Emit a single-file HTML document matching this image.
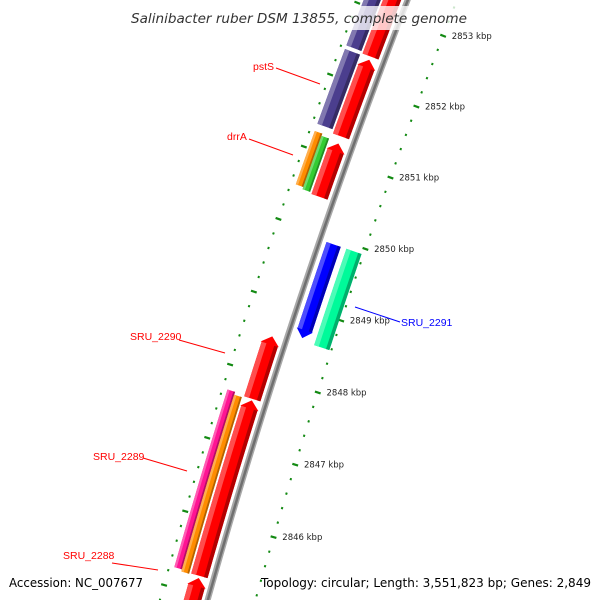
<!DOCTYPE html>
<html><head><meta charset="utf-8"><style>
html,body{margin:0;padding:0;background:#fff;width:600px;height:600px;overflow:hidden;}
svg{display:block;overflow:hidden;}
</style></head><body>
<svg id="map" width="600" height="600" viewBox="0 0 600 600" xmlns="http://www.w3.org/2000/svg">
<rect x="0" y="0" width="600" height="600" fill="#fff"/>
<g id="ticks"></g>
<g id="backbone"></g>
<g id="genes"></g>
<g id="labels">
 <line x1="276" y1="68" x2="320" y2="84" stroke="#f00" stroke-width="1"/>
 <text x="253" y="70" font-family="Liberation Sans, sans-serif" font-size="10.5" fill="#f00">pstS</text>
 <line x1="249" y1="139" x2="293" y2="155" stroke="#f00" stroke-width="1"/>
 <text x="227" y="140" font-family="Liberation Sans, sans-serif" font-size="10.5" fill="#f00">drrA</text>
 <line x1="179" y1="340" x2="225" y2="353" stroke="#f00" stroke-width="1"/>
 <text x="130" y="340" font-family="Liberation Sans, sans-serif" font-size="10.5" fill="#f00">SRU_2290</text>
 <line x1="143" y1="458" x2="187" y2="471" stroke="#f00" stroke-width="1"/>
 <text x="93" y="460" font-family="Liberation Sans, sans-serif" font-size="10.5" fill="#f00">SRU_2289</text>
 <line x1="112" y1="563" x2="158" y2="570" stroke="#f00" stroke-width="1"/>
 <text x="63" y="559" font-family="Liberation Sans, sans-serif" font-size="10.5" fill="#f00">SRU_2288</text>
 <line x1="355" y1="307" x2="400" y2="322" stroke="#00f" stroke-width="1"/>
 <text x="401" y="326" font-family="Liberation Sans, sans-serif" font-size="10.5" fill="#00f">SRU_2291</text>
</g>
<rect x="124" y="6" width="352" height="24" fill="#fff" fill-opacity="0.78"/>
<text x="299" y="23" text-anchor="middle" font-family="DejaVu Sans, sans-serif" font-style="italic" font-size="13" textLength="336" lengthAdjust="spacingAndGlyphs" fill="#333">Salinibacter ruber DSM 13855, complete genome</text>
<text x="9" y="587" font-family="DejaVu Sans, sans-serif" font-size="12" textLength="134" lengthAdjust="spacingAndGlyphs" fill="#000">Accession: NC_007677</text>
<text x="261" y="587" font-family="DejaVu Sans, sans-serif" font-size="12" textLength="330" lengthAdjust="spacingAndGlyphs" fill="#000">Topology: circular; Length: 3,551,823 bp; Genes: 2,849</text>
</svg>
<script>
// gene data (kbp)
const geneStart  = [2852.405, 2851.29, 2850.45, 2847.66, 2845.24, 2844.3, 2852.43, 2851.34, 2850.50, 2850.47, 2845.26, 2845.23, 2848.62, 2848.58];
const geneEnd    = [2854.3,   2852.36, 2851.19, 2848.52, 2847.64, 2845.21, 2854.3,  2852.38, 2851.24, 2851.21, 2847.68, 2847.64, 2849.92, 2849.92];
const geneStrand = [0, 1, 1, 1, 1, 1, 0, 0, 0, 0, 0, 0, -1, 0];
const geneTrack  = ['red','red','red','red','red','red','ring2','ring2','ring2o','ring2i','ring2o','ring2i','in1','in2'];
const geneColor  = ['#ff0000','#ff0000','#ff0000','#ff0000','#ff0000','#ff0000','#4b3e8e','#4b3e8e','#ff8c00','#33cc33','#ff1493','#ff8c00','#0000ff','#00fa9a'];
const tickMin = 2844.2, tickMax = 2854.4, tickStep = 0.2;
const tickLabels = [2846, 2847, 2848, 2849, 2850, 2851, 2852, 2853];

const R = 6516, CX = 6482, CY = 2358;
const trackD = {red:[6,23], ring2:[25,41], ring2o:[33,41], ring2i:[25,33], in1:[-22,-7], in2:[-44,-28]};
function ang(k){ return 0.3262 + (k - 2849.5) * 0.01169; }
function pt(k, d){ const a = ang(k), r = R + d; return [CX - r*Math.cos(a), CY - r*Math.sin(a)]; }
const NS = 'http://www.w3.org/2000/svg';
function arcPts(k0, k1, d){ const out=[]; const n=Math.max(2, Math.ceil(Math.abs(k1-k0)/0.05)); for(let i=0;i<=n;i++){ out.push(pt(k0+(k1-k0)*i/n, d)); } return out; }
function poly(points, fill, parent, name){
  const p = document.createElementNS(NS,'polygon');
  p.setAttribute('points', points.map(q=>q[0].toFixed(2)+','+q[1].toFixed(2)).join(' '));
  p.setAttribute('fill', fill);
  
  
  parent.appendChild(p); return p;
}
function shade(hex, f){
  const n=parseInt(hex.slice(1),16); let r=n>>16,g=(n>>8)&255,b=n&255;
  if(f>0){ r=r+(255-r)*f; g=g+(255-g)*f; b=b+(255-b)*f; } else { r*=1+f; g*=1+f; b*=1+f; }
  return 'rgb('+Math.round(r)+','+Math.round(g)+','+Math.round(b)+')';
}
// backbone
const bb = document.getElementById('backbone');
poly(arcPts(tickMin, tickMax, 3).concat(arcPts(tickMax, tickMin, -3)), '#a8a8a8', bb, 'backbone-band');
poly(arcPts(tickMin, tickMax, 1).concat(arcPts(tickMax, tickMin, -1.5)), '#707070', bb, 'backbone-core');
// genes
const gg = document.getElementById('genes');
for(let i=0;i<geneStart.length;i++){
  const s=geneStart[i], e=geneEnd[i], [d0,d1]=trackD[geneTrack[i]], c=geneColor[i], h=0.11, mid=(d0+d1)/2;
  let bs=s, be=e, shape;
  if(geneStrand[i]===1){ be=e-h; shape=arcPts(s,be,d1).concat([pt(be,d1+1),pt(e,mid),pt(be,d0-1)]).concat(arcPts(be,s,d0)); }
  else if(geneStrand[i]===-1){ bs=s+h; shape=[pt(s,mid),pt(bs,d1+1)].concat(arcPts(bs,e,d1)).concat(arcPts(e,bs,d0)).concat([pt(bs,d0-1)]); }
  else { shape=arcPts(s,e,d1).concat(arcPts(e,s,d0)); }
  const g = document.createElementNS(NS,'g');
  
  
  gg.appendChild(g);
  poly(shape, c, g, 'gene-body');
  const w=d1-d0;
  poly(arcPts(bs,be,d1).concat(arcPts(be,bs,d1-w*0.3)), shade(c,0.3), g, 'gene-highlight');
  poly(arcPts(bs,be,d0+w*0.22).concat(arcPts(be,bs,d0)), shade(c,-0.3), g, 'gene-shadow');
}
// ticks
const tg = document.getElementById('ticks');
const nT = Math.round((tickMax-tickMin)/tickStep);
for(let i=0;i<=nT;i++){
  const k = Math.round((tickMin + i*tickStep)*10)/10;
  const major = Math.abs(k-Math.round(k))<1e-6;
  [[46,1],[-46,-1]].forEach(([d,sg])=>{
    const a = pt(k, major ? d-3*sg : d-1*sg), b = pt(k, major ? d+3*sg : d+1*sg);
    const l = document.createElementNS(NS,'line');
    l.setAttribute('x1',a[0].toFixed(2)); l.setAttribute('y1',a[1].toFixed(2));
    l.setAttribute('x2',b[0].toFixed(2)); l.setAttribute('y2',b[1].toFixed(2));
    l.setAttribute('stroke','#138a13'); l.setAttribute('stroke-width', 2.2);
    
    
    tg.appendChild(l);
  });
}
tickLabels.forEach(k=>{
  const p = pt(k, -52);
  const t = document.createElementNS(NS,'text');
  t.setAttribute('x',(p[0]+3).toFixed(1)); t.setAttribute('y',(p[1]+1).toFixed(1));
  t.setAttribute('font-family','DejaVu Sans, sans-serif'); t.setAttribute('font-size','8.5');
  t.setAttribute('fill','#222');
  
  
  t.textContent = k + ' kbp';
  tg.appendChild(t);
});
</script>
</body></html>
